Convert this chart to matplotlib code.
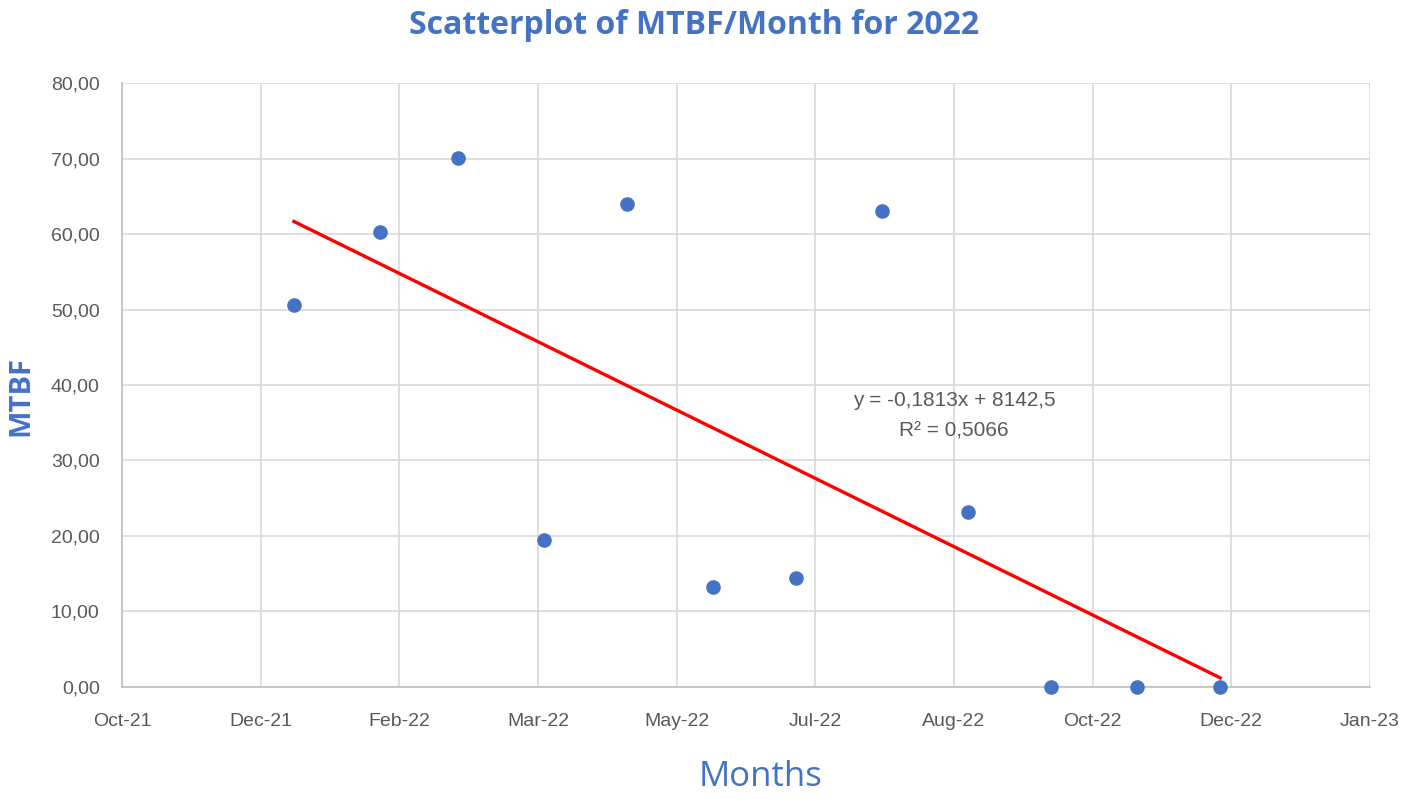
import datetime as dt
import numpy as np
import matplotlib
matplotlib.use('Agg')
from matplotlib import pyplot as plt
import matplotlib.dates as mdates
from matplotlib.ticker import FuncFormatter

months = ['2022-01-01', '2022-02-01', '2022-03-01', '2022-04-01', '2022-05-01', '2022-06-01',
          '2022-07-01', '2022-08-01', '2022-09-01', '2022-10-01', '2022-11-01', '2022-12-01']
mtbf = [50.6, 60.3, 70.1, 19.5, 64.0, 13.2, 14.4, 63.0, 23.2, 0.0, 0.0, 0.0]
eq_text = 'y = -0,1813x + 8142,5\nR² = 0,5066'

blue = '#4472C4'
grey = '#595959'
plt.rcParams['font.family'] = ['Liberation Sans', 'DejaVu Sans']

dates = [dt.datetime.strptime(m, '%Y-%m-%d') for m in months]
x = mdates.date2num(dates)
y = np.array(mtbf)

fig = plt.figure(figsize=(14.05, 7.99), dpi=100)
ax = fig.add_axes([0.0868, 0.1402, 0.8883, 0.7559])

ax.scatter(x, y, s=90, color=blue, zorder=3, clip_on=False)

# linear trendline
k, b = np.polyfit(x, y, 1)
ax.plot([x[0], x[-1]], [k * x[0] + b, k * x[-1] + b], color='#FF0000', lw=2.4, zorder=2)

x0 = mdates.date2num(dt.datetime(2021, 10, 31))
ax.set_xlim(x0, x0 + 450)
ax.set_ylim(0, 80)
ax.set_xticks(np.arange(x0, x0 + 451, 50))
ax.set_yticks(np.arange(0, 81, 10))
ax.xaxis.set_major_formatter(mdates.DateFormatter('%b-%y'))
ax.yaxis.set_major_formatter(FuncFormatter(lambda v, p: f'{v:.2f}'.replace('.', ',')))

ax.grid(True, color='#D9D9D9', lw=1.2)
ax.set_axisbelow(True)
for s in ['top', 'right']:
    ax.spines[s].set_visible(False)
for s in ['left', 'bottom']:
    ax.spines[s].set_color('#BFBFBF')
    ax.spines[s].set_linewidth(1.2)
ax.tick_params(length=0, labelsize=14, colors=grey)
ax.tick_params(axis='x', pad=19)
ax.tick_params(axis='y', pad=16)

ax.text(x0 + 300, 35.9, eq_text, fontsize=15, color=grey, ha='center', va='center', linespacing=1.75)

fig.text(0.494, 0.968, 'Scatterplot of MTBF/Month for 2022', ha='center', va='center',
         fontsize=23, fontweight='bold', color=blue, family=['Open Sans', 'DejaVu Sans'])
fig.text(0.015, 0.505, 'MTBF', rotation=90, ha='center', va='center',
         fontsize=21, fontweight='bold', color=blue, family=['Open Sans', 'DejaVu Sans'])
fig.text(0.541, 0.027, 'Months', ha='center', va='center',
         fontsize=25, color=blue, family=['Open Sans', 'DejaVu Sans'])

fig.savefig('out.png', dpi=100)
